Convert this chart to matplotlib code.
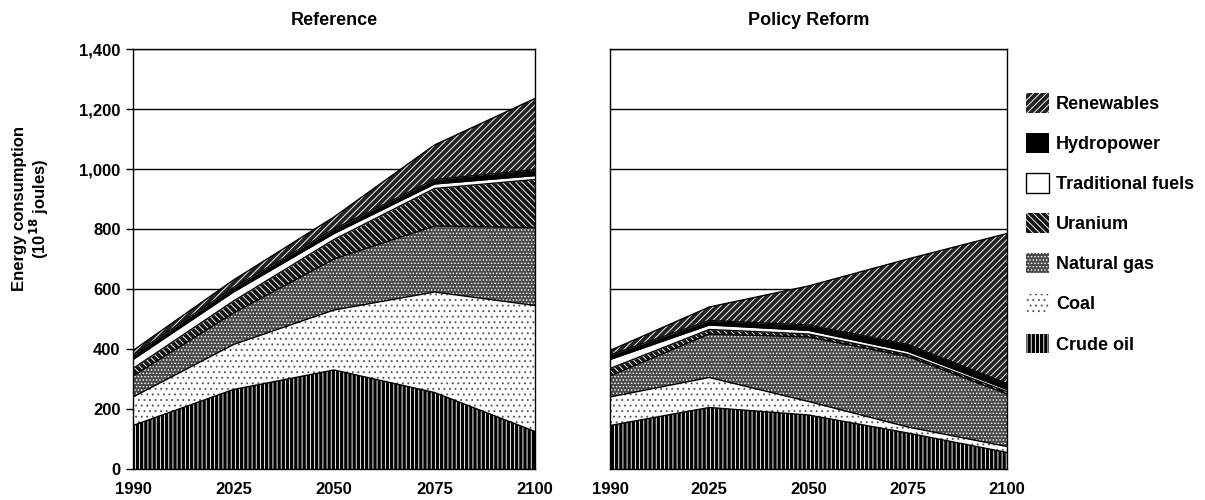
#!/usr/bin/env python3
"""Stacked-area comparison of world energy consumption by source, two scenarios."""

import matplotlib

matplotlib.use("Agg")
import matplotlib.patches as mpatches
import matplotlib.pyplot as plt
import numpy as np

years = ["1990", "2025", "2050", "2075", "2100"]
sources = ["Crude oil", "Coal", "Natural gas", "Uranium",
           "Traditional fuels", "Hydropower", "Renewables"]

# Energy consumption by source, 10^18 joules
reference = {
    "Crude oil": [145, 265, 330, 255, 125],
    "Coal": [95, 150, 200, 335, 420],
    "Natural gas": [70, 105, 170, 220, 260],
    "Uranium": [25, 40, 65, 125, 160],
    "Traditional fuels": [30, 30, 20, 15, 13],
    "Hydropower": [15, 15, 15, 15, 20],
    "Renewables": [15, 25, 40, 115, 237],
}
policy_reform = {
    "Crude oil": [145, 205, 180, 120, 55],
    "Coal": [95, 100, 45, 20, 20],
    "Natural gas": [70, 145, 215, 235, 175],
    "Uranium": [25, 15, 10, 7, 8],
    "Traditional fuels": [30, 15, 12, 10, 7],
    "Hydropower": [15, 15, 18, 23, 20],
    "Renewables": [15, 45, 130, 285, 500],
}

y_ticks = [0, 200, 400, 600, 800, 1000, 1200, 1400]
y_tick_labels = ["0", "200", "400", "600", "800", "1,000", "1,200", "1,400"]

# black-and-white print style: face colour, hatch colour, hatch pattern
styles = {
    "Crude oil": ("black", "white", "||||"),
    "Coal": ("white", "#555555", "..."),
    "Natural gas": ("#484848", "white", "....."),
    "Uranium": ("#151515", "white", "\\" * 5),
    "Traditional fuels": ("white", "black", None),
    "Hydropower": ("black", "black", None),
    "Renewables": ("#222222", "white", "/" * 5),
}

plt.rcParams["font.family"] = ["Liberation Sans", "DejaVu Sans"]
plt.rcParams["font.weight"] = "bold"
plt.rcParams["hatch.linewidth"] = 0.65


def draw_panel(ax, data, title, show_yticks):
    x = np.arange(len(years))
    base = np.zeros(len(years))
    for name in sources:
        top = base + np.array(data[name], dtype=float)
        face, hatch_col, hatch = styles[name]
        ax.fill_between(x, base, top, facecolor=face, edgecolor=hatch_col,
                        hatch=hatch, linewidth=0, zorder=2)
        ax.plot(x, top, color="black", linewidth=1.0, zorder=3)
        base = top

    ax.set_xlim(0, len(years) - 1)
    ax.set_ylim(0, 1400)
    ax.set_xticks(x)
    ax.set_xticklabels(years, fontsize=12)
    ax.tick_params(axis="x", length=0, pad=9)
    ax.set_yticks(y_ticks)
    ax.yaxis.grid(True, color="black", linewidth=1.0, zorder=0)
    ax.set_axisbelow(True)
    if show_yticks:
        ax.set_yticklabels(y_tick_labels, fontsize=12)
        ax.tick_params(axis="y", length=5, width=1, pad=4)
    else:
        ax.tick_params(axis="y", length=0, labelleft=False)
    for spine in ax.spines.values():
        spine.set_linewidth(1.0)
    ax.set_title(title, fontsize=13, fontweight="bold", pad=17)


fig = plt.figure(figsize=(12.05, 5), dpi=100)
ax_ref = fig.add_axes([133 / 1205, 31 / 500, 402 / 1205, 420 / 500])
ax_pol = fig.add_axes([610 / 1205, 31 / 500, 397 / 1205, 420 / 500])

draw_panel(ax_ref, reference, "Reference", True)
draw_panel(ax_pol, policy_reform, "Policy Reform", False)

ax_ref.set_ylabel("Energy consumption\n(10$^{18}$ joules)", fontsize=12,
                  fontweight="bold", linespacing=1.05)
ax_ref.yaxis.set_label_coords(-0.205, 0.62)

handles = []
for name in reversed(sources):
    face, hatch_col, hatch = styles[name]
    if name == "Traditional fuels":
        handles.append(mpatches.Patch(facecolor="white", edgecolor="black",
                                      linewidth=1.0, label=name))
    else:
        handles.append(mpatches.Patch(facecolor=face, edgecolor=hatch_col,
                                      hatch=hatch, linewidth=0, label=name))

fig.legend(handles=handles, loc="upper left",
           bbox_to_anchor=(1026 / 1205, 1 - 93 / 500), frameon=False,
           fontsize=13, handlelength=1.3, handleheight=1.3,
           handletextpad=0.35, labelspacing=1.12, borderpad=0, borderaxespad=0)

fig.savefig("out.png", dpi=100, facecolor="white")
